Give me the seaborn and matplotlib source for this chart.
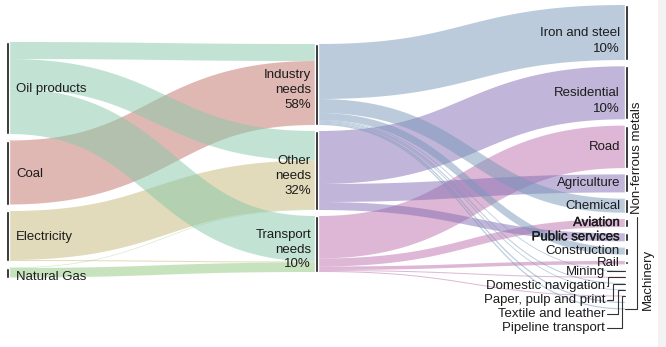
import numpy as np
import matplotlib
matplotlib.use("Agg")
import matplotlib.pyplot as plt
import matplotlib.patheffects as pe
import seaborn as sns

# ---------------- data ----------------
sources = ["Oil products", "Coal", "Electricity", "Natural Gas"]
needs = ["Industry needs", "Other needs", "Transport needs"]
need_labels = ["Industry\nneeds\n58%", "Other\nneeds\n32%", "Transport\nneeds\n10%"]
sectors = ["Iron and steel", "Residential", "Road", "Agriculture", "Chemical",
           "Aviation", "Public services", "Construction", "Rail", "Mining",
           "Domestic navigation", "Paper, pulp and print", "Textile and leather",
           "Pipeline transport", "Machinery", "Non-ferrous metals"]
sector_share = {"Iron and steel": "10%", "Residential": "10%"}

# source -> need (listed in drawing order)
flow_src = ["Coal", "Electricity", "Electricity", "Natural Gas", "Natural Gas",
            "Oil products", "Oil products", "Oil products"]
flow_need = ["Industry needs", "Other needs", "Transport needs", "Other needs",
             "Transport needs", "Industry needs", "Other needs", "Transport needs"]
flow_val = [64, 49, 1, 0.5, 9.5, 17, 29.5, 45.5]

# need -> sector
sector_need = ["Industry needs", "Other needs", "Transport needs", "Other needs",
               "Industry needs", "Transport needs", "Other needs", "Industry needs",
               "Transport needs", "Industry needs", "Transport needs", "Industry needs",
               "Industry needs", "Transport needs", "Industry needs", "Industry needs"]
sector_val = [55, 53, 42.5, 18, 14, 8, 8, 7, 3.5, 0.8, 1, 1, 0.8, 1, 1.2, 1.2]

src_colors = {"Oil products": "#87c9a9", "Coal": "#c37369",
              "Electricity": "#c5b779", "Natural Gas": "#91c97d"}
need_colors = {"Industry needs": "#7999b9", "Other needs": "#856db5",
               "Transport needs": "#bd71ad"}

# ---------------- style ----------------
sns.set_theme(style="white")
plt.rcParams["font.family"] = ["Liberation Sans", "DejaVu Sans"]
TXT = "#1c1c1c"
FS = 9.5

W, H, DPI = 666, 347, 100
fig = plt.figure(figsize=(W / DPI, H / DPI), dpi=DPI)
ax = fig.add_axes([0, 0, 1, 1])
ax.set_xlim(0, W)
ax.set_ylim(H, 0)
ax.axis("off")
ax.axvspan(658, W, color="#f3f3f3", zorder=0, lw=0)

X_SRC, X_NEED, X_SEC, BAR = 6, 315, 625, 3

src_size = {s: sum(v for a, v in zip(flow_src, flow_val) if a == s) for s in sources}
need_size = {n: sum(v for a, v in zip(flow_need, flow_val) if a == n) for n in needs}
sec_size = dict(zip(sectors, sector_val))


def stack(names, size, top, gap, small_gap=None):
    pos, y, prev = {}, top, None
    for n in names:
        if prev is not None:
            g = gap
            if small_gap is not None and size[n] <= 2 and size[prev] <= 2:
                g = small_gap
            y += g
        pos[n] = y
        y += size[n]
        prev = n
    return pos


src_y = stack(sources, src_size, 42, 6.5)
need_y = stack(needs, need_size, 44, 6)
sec_y = stack(sectors, sec_size, 5, 6.3, 5.3)


def link(x0, x1, y0, y1, w, color):
    t = np.linspace(0, 1, 120)
    xm = (x0 + x1) / 2
    x = (1 - t) ** 3 * x0 + 3 * (1 - t) ** 2 * t * xm + 3 * (1 - t) * t ** 2 * xm + t ** 3 * x1
    y = (1 - t) ** 3 * y0 + 3 * (1 - t) ** 2 * t * y0 + 3 * (1 - t) * t ** 2 * y1 + t ** 3 * y1
    ax.plot(x, y, color=color, lw=w * 72 / DPI, alpha=0.5,
            solid_capstyle="butt", zorder=2)


# left -> middle
n1 = len(flow_val)
s_off = dict(src_y)
ys = {}
for i in sorted(range(n1), key=lambda i: (sources.index(flow_src[i]), needs.index(flow_need[i]))):
    ys[i] = s_off[flow_src[i]] + flow_val[i] / 2
    s_off[flow_src[i]] += flow_val[i]
t_off = dict(need_y)
ye = {}
for i in sorted(range(n1), key=lambda i: (needs.index(flow_need[i]), sources.index(flow_src[i]))):
    ye[i] = t_off[flow_need[i]] + flow_val[i] / 2
    t_off[flow_need[i]] += flow_val[i]
for i in range(n1):
    link(X_SRC + BAR, X_NEED, ys[i], ye[i], flow_val[i], src_colors[flow_src[i]])

# middle -> right
n_off = dict(need_y)
for j, sec in enumerate(sectors):
    nd = sector_need[j]
    v = sector_val[j]
    y0 = n_off[nd] + v / 2
    n_off[nd] += v
    link(X_NEED + BAR, X_SEC, y0, sec_y[sec] + v / 2, v, need_colors[nd])

# node bars
ax.bar([X_SRC + BAR / 2] * len(sources), [src_size[s] for s in sources],
       bottom=[src_y[s] for s in sources], width=BAR, color="#111111", zorder=3)
ax.bar([X_NEED + BAR / 2] * len(needs), [need_size[n] for n in needs],
       bottom=[need_y[n] for n in needs], width=BAR, color="#111111", zorder=3)
ax.bar([X_SEC + BAR / 2] * len(sectors), [sec_size[s] for s in sectors],
       bottom=[sec_y[s] for s in sectors], width=BAR, color="#111111", zorder=3)

# left labels
for s in sources:
    if src_size[s] < 14:
        ax.text(16, src_y[s] + 3, s, ha="left", va="top", fontsize=FS, color=TXT, zorder=4)
    else:
        ax.text(16, src_y[s] + src_size[s] / 2 + 1, s, ha="left", va="center",
                fontsize=FS, color=TXT, zorder=4)

# middle labels
for n, lab in zip(needs, need_labels):
    ax.text(X_NEED - 4, need_y[n] + need_size[n] / 2 + 5.5, lab, ha="right", va="center",
            multialignment="right", linespacing=1.33, fontsize=FS, color=TXT, zorder=4)

# right labels
leader = [s for s in sectors[9:14]]
heavy = [pe.withStroke(linewidth=0.25, foreground=TXT)]
for s in sectors:
    c = sec_y[s] + sec_size[s] / 2
    if s in leader or s in ("Machinery", "Non-ferrous metals"):
        continue
    bold = s in ("Aviation", "Public services")
    ax.text(X_SEC - 5, c, s, ha="right", va="center", fontsize=FS, color=TXT,
            path_effects=heavy if bold else None, zorder=4)
    if s in sector_share:
        ax.text(X_SEC - 5, c + 16.5, sector_share[s], ha="right", va="center",
                fontsize=FS, color=TXT, zorder=4)

base = sec_y[leader[0]] + sec_size[leader[0]] / 2 + 1
elbows = [None, 608, 613, 618, 622]
for k, s in enumerate(leader):
    c = sec_y[s] + sec_size[s] / 2
    ly = base + k * 14
    ax.text(X_SEC - 20, ly, s, ha="right", va="center", fontsize=FS, color=TXT, zorder=4)
    if elbows[k] is None:
        ax.plot([X_SEC - 18, X_SEC], [c, c], color="#333333", lw=0.8, zorder=4)
    else:
        ex = elbows[k]
        ax.plot([X_SEC - 18, ex, ex, X_SEC], [ly, ly, c, c], color="#333333", lw=0.8, zorder=4)

nf = "Non-ferrous metals"
nfc = sec_y[nf] + sec_size[nf] / 2
ax.plot([X_SEC, 637, 637], [nfc, nfc, 217], color="#333333", lw=0.8, zorder=4)
ax.text(637, 214, nf, rotation=90, rotation_mode="anchor", ha="left", va="center",
        fontsize=FS, color=TXT, zorder=4)
ax.text(647.5, nfc + 1, "Machinery", rotation=90, rotation_mode="anchor", ha="left",
        va="center", fontsize=FS, color=TXT, zorder=4)

fig.savefig("out.png", dpi=DPI)
